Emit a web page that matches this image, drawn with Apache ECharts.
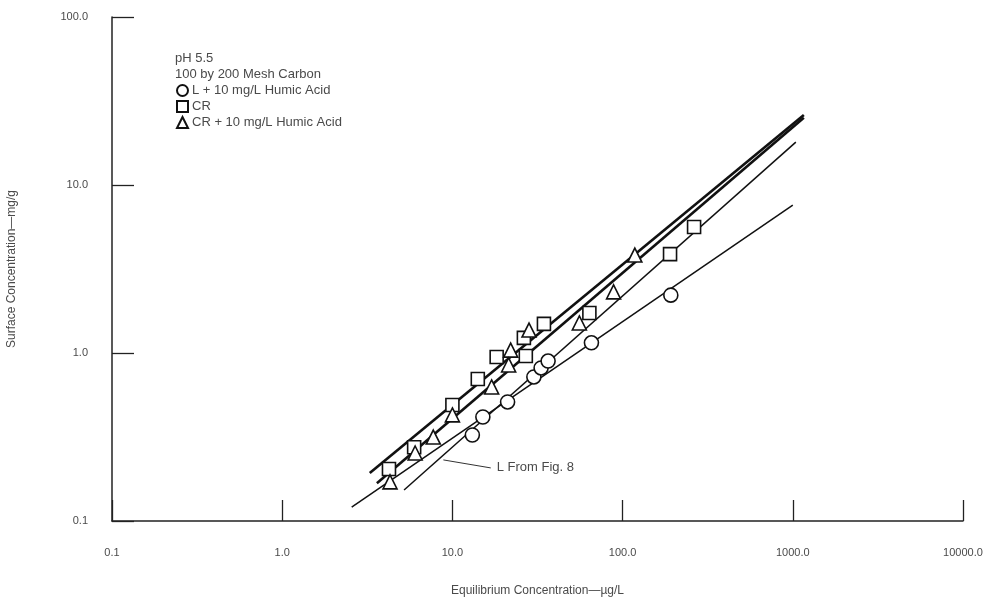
<!DOCTYPE html>
<html>
<head>
<meta charset="utf-8">
<title>Adsorption isotherms</title>
<script src="https://cdn.jsdelivr.net/npm/echarts@6/dist/echarts.min.js"></script>
<style>
    html, body {margin: 0; padding: 0; background: #fff;}
    #isotherm_chart {width: 993px; height: 601px;}
</style>
</head>
<body>
<div id="isotherm_chart"></div>
<script>
// 数据：等温线上的点 [平衡浓度 ug/L, 表面浓度 mg/g]
var seriesNames = ['L + 10 mg/L Humic Acid', 'CR', 'CR + 10 mg/L Humic Acid'];
var circlePoints = [
    [13.1, 0.325], [15.1, 0.416], [21.1, 0.511], [30.1, 0.72],
    [33.2, 0.815], [36.5, 0.896], [65.6, 1.15], [192, 2.21]
];
var squarePoints = [
    [4.24, 0.204], [5.96, 0.275], [10.0, 0.49], [14.1, 0.70],
    [18.2, 0.946], [27.0, 0.96], [26.3, 1.23], [34.5, 1.49],
    [63.8, 1.73], [190, 3.88], [263, 5.62]
];
var trianglePoints = [
    [4.30, 0.171], [6.04, 0.254], [7.72, 0.316], [10.0, 0.428],
    [17.0, 0.628], [22.0, 1.04], [21.4, 0.849], [28.2, 1.37],
    [55.7, 1.51], [88.5, 2.31], [118, 3.83]
];
// 拟合线的两个端点
var circleFit = [[2.56, 0.121], [1000, 7.6]];
var squareFit = [[3.27, 0.193], [1161, 26.1]];
var triangleFit = [[3.60, 0.168], [1161, 25.1]];
var figEightFit = [[5.20, 0.153], [1042, 18.0]];
var figEightLeader = [[8.85, 0.231], [16.8, 0.207]];
// 坐标轴范围
var xRange = [0.1, 10000];
var yRange = [0.1, 100];

/**
 * 页面初始化
 */
window.onload = function () {
    isothermChart();
};

/**
 * 拟合直线
 */
function fitLine(data, width) {
    return {
        type: 'line',
        data: data,
        showSymbol: false,
        silent: true,
        lineStyle: {color: '#111', width: width},
        z: 1
    };
}

/**
 * 散点
 */
function pointSeries(name, symbol, size, data) {
    return {
        name: name,
        type: 'scatter',
        symbol: symbol,
        symbolSize: size,
        data: data,
        itemStyle: {color: '#fff', borderColor: '#111', borderWidth: 1.6, opacity: 1},
        z: 3
    };
}

/**
 * 等温线图表
 */
function isothermChart() {
    var myChart = echarts.init(document.getElementById('isotherm_chart'));
    var textColor = '#4a4a4a';
    var option = {
        animation: false,
        backgroundColor: '#fff',
        title: {
            text: 'pH 5.5\n100 by 200 Mesh Carbon',
            left: 170,
            top: 45,
            textStyle: {
                fontFamily: 'Liberation Sans',
                fontSize: 13,
                fontWeight: 'normal',
                color: textColor,
                lineHeight: 16
            }
        },
        legend: {
            orient: 'vertical',
            left: 171,
            top: 79,
            itemWidth: 11,
            itemHeight: 11,
            itemGap: 3,
            data: seriesNames,
            textStyle: {
                fontFamily: 'Liberation Sans',
                fontSize: 13,
                color: textColor,
                padding: [0, 0, 0, -1]
            }
        },
        grid: {left: 112, right: 30, top: 17, bottom: 80, outerBoundsMode: 'none'},
        xAxis: {
            type: 'log',
            logBase: 10,
            min: xRange[0],
            max: xRange[1],
            name: 'Equilibrium Concentration\u2014\u00b5g/L',
            nameLocation: 'middle',
            nameGap: 64,
            nameTextStyle: {fontFamily: 'Liberation Sans', fontSize: 12, color: textColor},
            axisLine: {lineStyle: {color: '#222', width: 1.5}},
            axisTick: {inside: true, length: 21, lineStyle: {color: '#222', width: 1.3}},
            axisLabel: {
                margin: 26,
                fontFamily: 'Liberation Sans',
                fontSize: 11,
                color: textColor,
                formatter: function (v) {
                    return v.toFixed(1);
                }
            },
            splitLine: {show: false}
        },
        yAxis: {
            type: 'log',
            logBase: 10,
            min: yRange[0],
            max: yRange[1],
            name: 'Surface Concentration\u2014mg/g',
            nameLocation: 'middle',
            nameGap: 94,
            nameTextStyle: {fontFamily: 'Liberation Sans', fontSize: 12, color: textColor},
            axisLine: {lineStyle: {color: '#222', width: 1.5}},
            axisTick: {inside: true, length: 22, lineStyle: {color: '#222', width: 1.3}},
            axisLabel: {
                margin: 24,
                fontFamily: 'Liberation Sans',
                fontSize: 11,
                color: textColor,
                formatter: function (v) {
                    return v.toFixed(1);
                }
            },
            splitLine: {show: false}
        },
        series: [
            fitLine(circleFit, 1.5),
            fitLine(squareFit, 2.6),
            fitLine(triangleFit, 2.6),
            fitLine(figEightFit, 1.5),
            {
                type: 'line',
                data: figEightLeader,
                showSymbol: false,
                silent: true,
                lineStyle: {color: '#333', width: 1},
                endLabel: {
                    show: true,
                    distance: 6,
                    formatter: 'L From Fig. 8',
                    fontFamily: 'Liberation Sans',
                    fontSize: 13,
                    color: textColor
                }
            },
            pointSeries(seriesNames[0], 'circle', 14, circlePoints),
            pointSeries(seriesNames[1], 'rect', 13, squarePoints),
            pointSeries(seriesNames[2], 'triangle', 14, trianglePoints)
        ]
    };
    if (option && typeof option === "object") {
        myChart.setOption(option, true);
    }
}
</script>
</body>
</html>
